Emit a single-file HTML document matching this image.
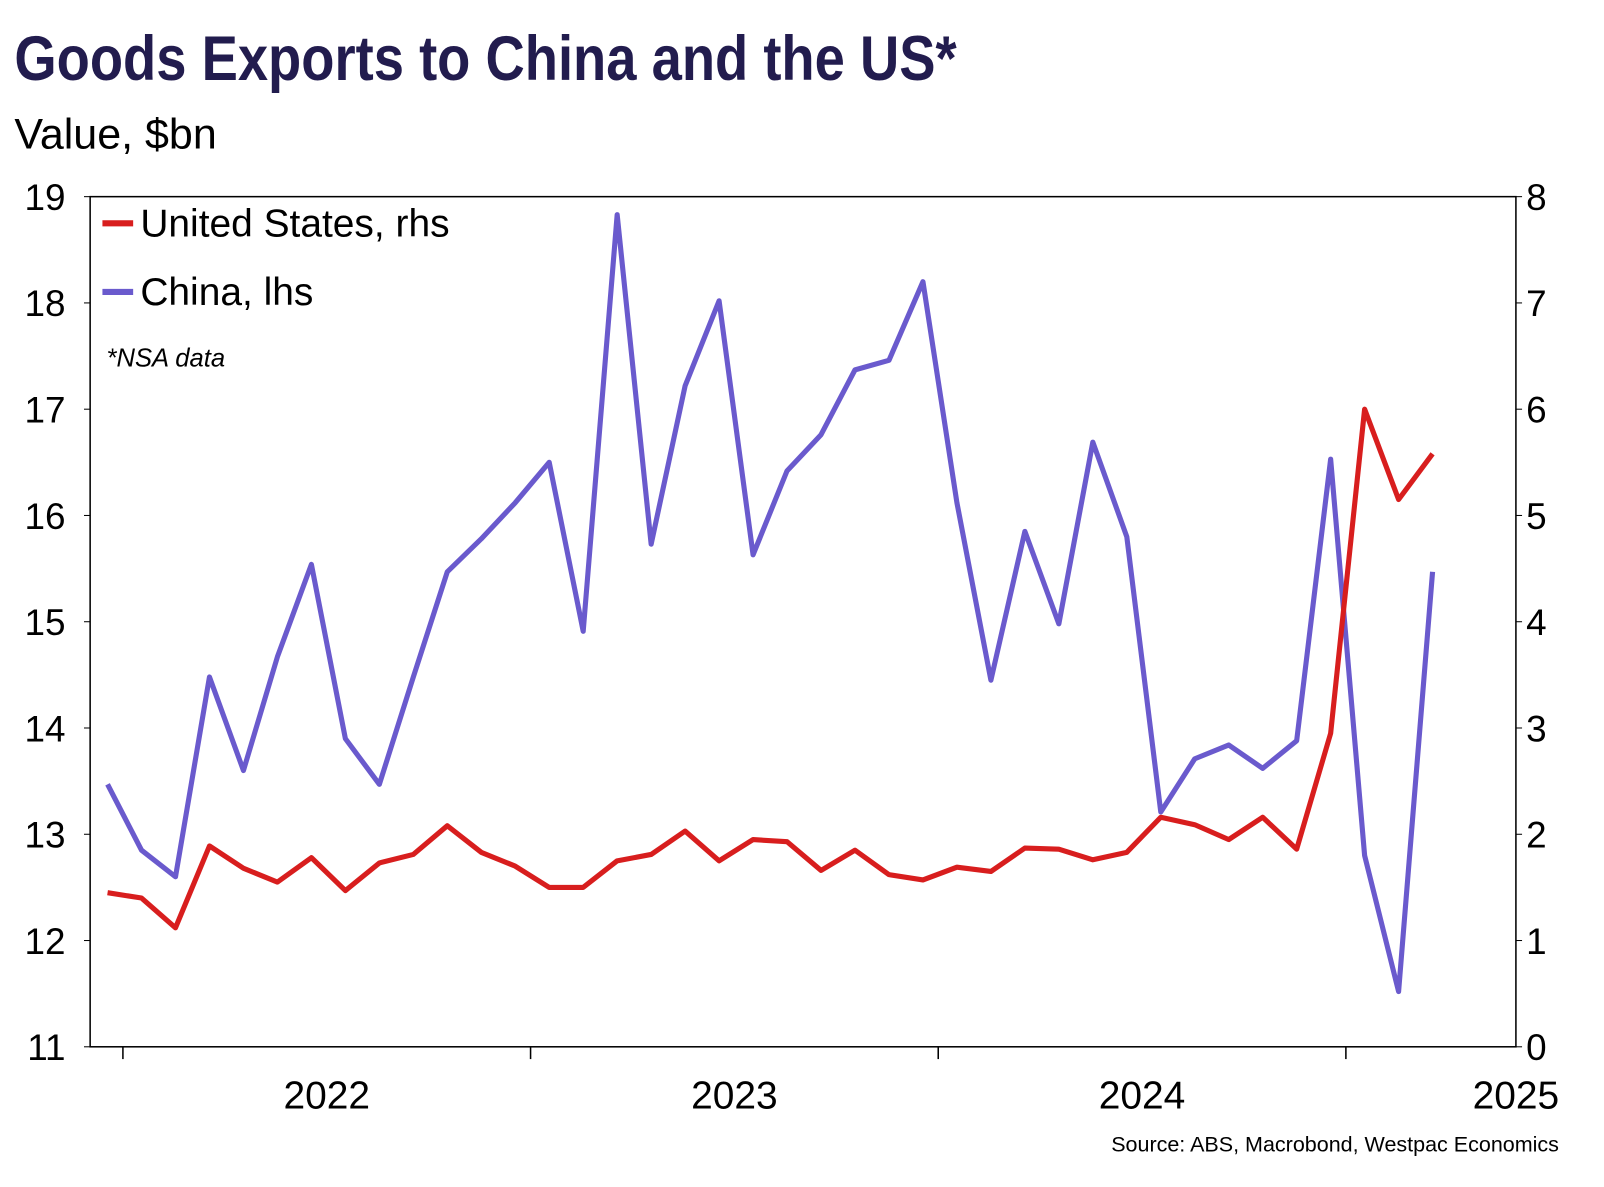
<!DOCTYPE html>
<html><head><meta charset="utf-8"><style>
body{margin:0;background:#fff;width:1604px;height:1182px;overflow:hidden;font-family:"Liberation Sans",sans-serif}
</style></head><body>
<svg width="1604" height="1182" viewBox="0 0 1566 1154" xmlns="http://www.w3.org/2000/svg">
<text x="14" y="78" font-family="Liberation Sans Narrow, Liberation Sans, sans-serif" font-weight="bold" font-size="62" fill="#221c4e" textLength="920" lengthAdjust="spacingAndGlyphs">Goods Exports to China and the US*</text>
<text x="14" y="145" font-size="42" fill="#000">Value, $bn</text>
<g id="plot"></g>
<text x="1522" y="1124" font-size="21" text-anchor="end" fill="#000">Source: ABS, Macrobond, Westpac Economics</text>
</svg>
<script>
const china=[13.47,12.85,12.6,14.48,13.6,14.67,15.54,13.9,13.47,14.48,15.47,15.78,16.12,16.5,14.91,18.83,15.73,17.22,18.02,15.63,16.42,16.76,17.37,17.46,18.2,16.12,14.45,15.85,14.98,16.69,15.8,13.21,13.71,13.84,13.62,13.88,16.53,12.8,11.52,15.47];
const us=[1.45,1.4,1.12,1.89,1.68,1.55,1.78,1.47,1.73,1.81,2.08,1.83,1.7,1.5,1.5,1.75,1.81,2.03,1.75,1.95,1.93,1.66,1.85,1.62,1.57,1.69,1.65,1.87,1.86,1.76,1.83,2.16,2.09,1.95,2.16,1.86,2.95,6.0,5.15,5.58];
const leftTicks=[11,12,13,14,15,16,17,18,19];
const rightTicks=[0,1,2,3,4,5,6,7,8];
const yearLabels=["2022","2023","2024","2025"];
const NS="http://www.w3.org/2000/svg";
const L=88,R=1480,T=192,B=1022;
const yL=v=>B-(v-11)/8*(B-T);
const yR=v=>B-v/8*(B-T);
const xI=i=>105+i*33.17;
const g=document.getElementById('plot');
function mk(t,a){const e=document.createElementNS(NS,t);for(const k in a)e.setAttribute(k,a[k]);g.appendChild(e);return e;}
let e=mk('rect',{x:L,y:T,width:R-L,height:B-T,fill:'none',stroke:'#000','stroke-width':1.5});


leftTicks.forEach(v=>{let t=mk('text',{x:64,y:yL(v)+13,'font-size':36,'text-anchor':'end'});t.textContent=v;


mk('line',{x1:L-6,x2:L,y1:yL(v),y2:yL(v),stroke:'#000'});});
rightTicks.forEach(v=>{let t=mk('text',{x:1490,y:yR(v)+13,'font-size':36});t.textContent=v;


mk('line',{x1:R,x2:R+6,y1:yR(v),y2:yR(v),stroke:'#000'});});
yearLabels.forEach((y,k)=>{const x0=120+k*398;
if(k<3)mk('line',{x1:x0,x2:x0,y1:B,y2:B+12,stroke:'#000','stroke-width':1.5});
let t=mk('text',{x:k<3?x0+199:1480,y:1082,'font-size':38,'text-anchor':'middle'});t.textContent=y;

});
mk('line',{x1:1314,x2:1314,y1:B,y2:B+12,stroke:'#000','stroke-width':1.5});
let p=mk('polyline',{points:china.map((v,i)=>xI(i)+','+yL(v)).join(' '),fill:'none',stroke:'#6a5acd','stroke-width':5,'stroke-linejoin':'round'});


p=mk('polyline',{points:us.map((v,i)=>xI(i)+','+yR(v)).join(' '),fill:'none',stroke:'#d81e1e','stroke-width':5,'stroke-linejoin':'round'});


[["United States, rhs","#d81e1e",218],["China, lhs","#6a5acd",285]].forEach(([n,c,y])=>{
mk('line',{x1:100,x2:130,y1:y,y2:y,stroke:c,'stroke-width':6});
let t=mk('text',{x:137,y:y+13,'font-size':38});t.textContent=n;

});
let n=mk('text',{x:104,y:358,'font-size':25,'font-style':'italic'});n.textContent='*NSA data';


</script>
</body></html>
